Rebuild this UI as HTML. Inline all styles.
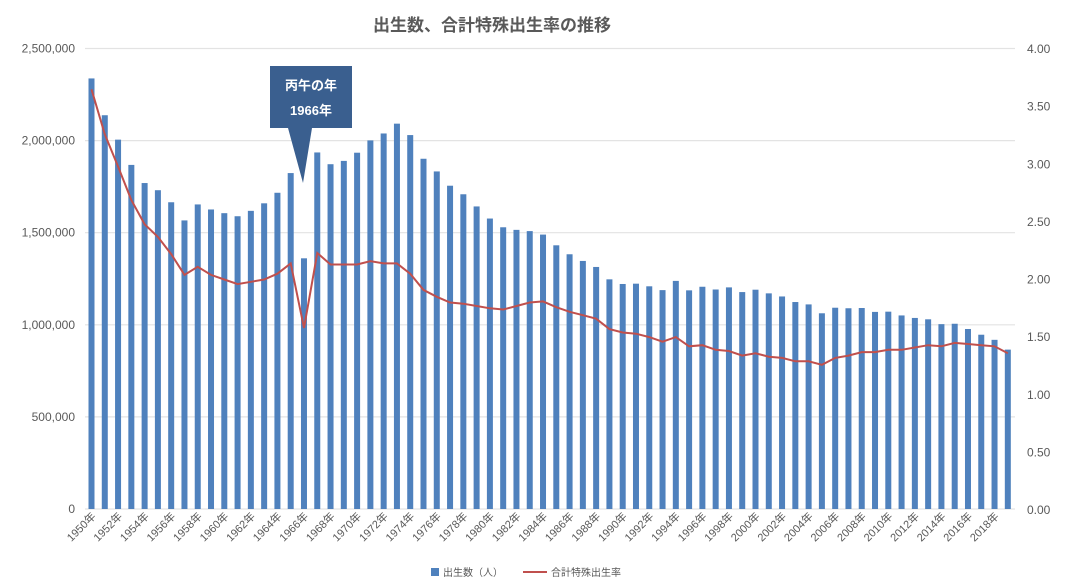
<!DOCTYPE html>
<html><head><meta charset="utf-8"><style>
body{margin:0;background:#fff;}
svg{display:block;font-family:"Liberation Sans","Noto Sans CJK JP",sans-serif;}
</style></head><body>
<svg id="c" width="1065" height="588" viewBox="0 0 1065 588" xmlns="http://www.w3.org/2000/svg">
<text x="492" y="31" text-anchor="middle" font-size="17" font-weight="bold" fill="#595959">出生数、合計特殊出生率の推移</text>
<g id="grid"></g><g id="bars"></g><g id="line"></g><g id="lab"></g>
<polygon points="270,66 352,66 352,128 312,128 303,183 288,128 270,128" fill="#3a5f8f"/>
<text x="311" y="90" text-anchor="middle" font-size="13" font-weight="bold" fill="#fff">丙午の年</text>
<text x="311" y="115" text-anchor="middle" font-size="13" font-weight="bold" fill="#fff">1966年</text>
<rect x="431" y="568" width="8" height="8" fill="#4f81bd"/>
<text x="443" y="576" font-size="10" fill="#595959">出生数（人）</text>
<line x1="523" y1="572" x2="547" y2="572" stroke="#c0504d" stroke-width="2"/>
<text x="551" y="576" font-size="10" fill="#595959">合計特殊出生率</text>
</svg>
<script>
var B=[2337507,2137689,2005162,1868040,1769580,1730692,1665278,1566713,1653469,1626088,1606041,1589372,1618616,1659521,1716761,1823697,1360974,1935647,1871839,1889815,1934239,2000973,2038682,2091983,2029989,1901440,1832617,1755100,1708643,1642580,1576889,1529455,1515392,1508687,1489780,1431577,1382946,1346658,1314006,1246802,1221585,1223245,1208989,1188282,1238328,1187064,1206555,1191665,1203147,1177669,1190547,1170662,1153855,1123610,1110721,1062530,1092674,1089818,1091156,1070035,1071304,1050806,1037231,1029816,1003539,1005677,977242,946146,918400,865239];
var T=[3.65,3.26,2.98,2.69,2.48,2.37,2.22,2.04,2.11,2.04,2.00,1.96,1.98,2.00,2.05,2.14,1.58,2.23,2.13,2.13,2.13,2.16,2.14,2.14,2.05,1.91,1.85,1.80,1.79,1.77,1.75,1.74,1.77,1.80,1.81,1.76,1.72,1.69,1.66,1.57,1.54,1.53,1.50,1.46,1.50,1.42,1.43,1.39,1.38,1.34,1.36,1.33,1.32,1.29,1.29,1.26,1.32,1.34,1.37,1.37,1.39,1.39,1.41,1.43,1.42,1.45,1.44,1.43,1.42,1.36];
var NS="http://www.w3.org/2000/svg";
function el(p,t,a,tx){var e=document.createElementNS(NS,t);for(var k in a)e.setAttribute(k,a[k]);if(tx)e.textContent=tx;document.getElementById(p).appendChild(e);}
var Z=509,H=460.5,RZ=510,RH=461;
var lbl=["0","500,000","1,000,000","1,500,000","2,000,000","2,500,000"];
for(var i=0;i<=5;i++){var y=Z-i*H/5;el("grid","line",{x1:85,x2:1015,y1:y,y2:y,stroke:"#e3e3e3","stroke-width":1.2});el("lab","text",{x:75,y:y+4,"text-anchor":"end","font-size":12,fill:"#595959"},lbl[i]);}
for(var i=0;i<=8;i++){var y=RZ-i*RH/8;el("lab","text",{x:1027,y:y+4,"font-size":12,fill:"#595959"},(i*0.5).toFixed(2));}
var pts=[];
for(var i=0;i<70;i++){var cx=91.5+i*13.28;var h=B[i]/2500000*H;
el("bars","rect",{x:cx-3,y:Z-h,width:6,height:h,fill:"#4f81bd"});
pts.push(cx.toFixed(1)+","+(RZ-T[i]/4*RH).toFixed(1));
if(i%2==0)el("lab","text",{x:0,y:0,"text-anchor":"end","font-size":11,fill:"#595959",transform:"translate("+(cx+5)+",517) rotate(-45)"},(1950+i)+"年");}
el("line","polyline",{points:pts.join(" "),fill:"none",stroke:"#c0504d","stroke-width":2});
</script>
</body></html>
